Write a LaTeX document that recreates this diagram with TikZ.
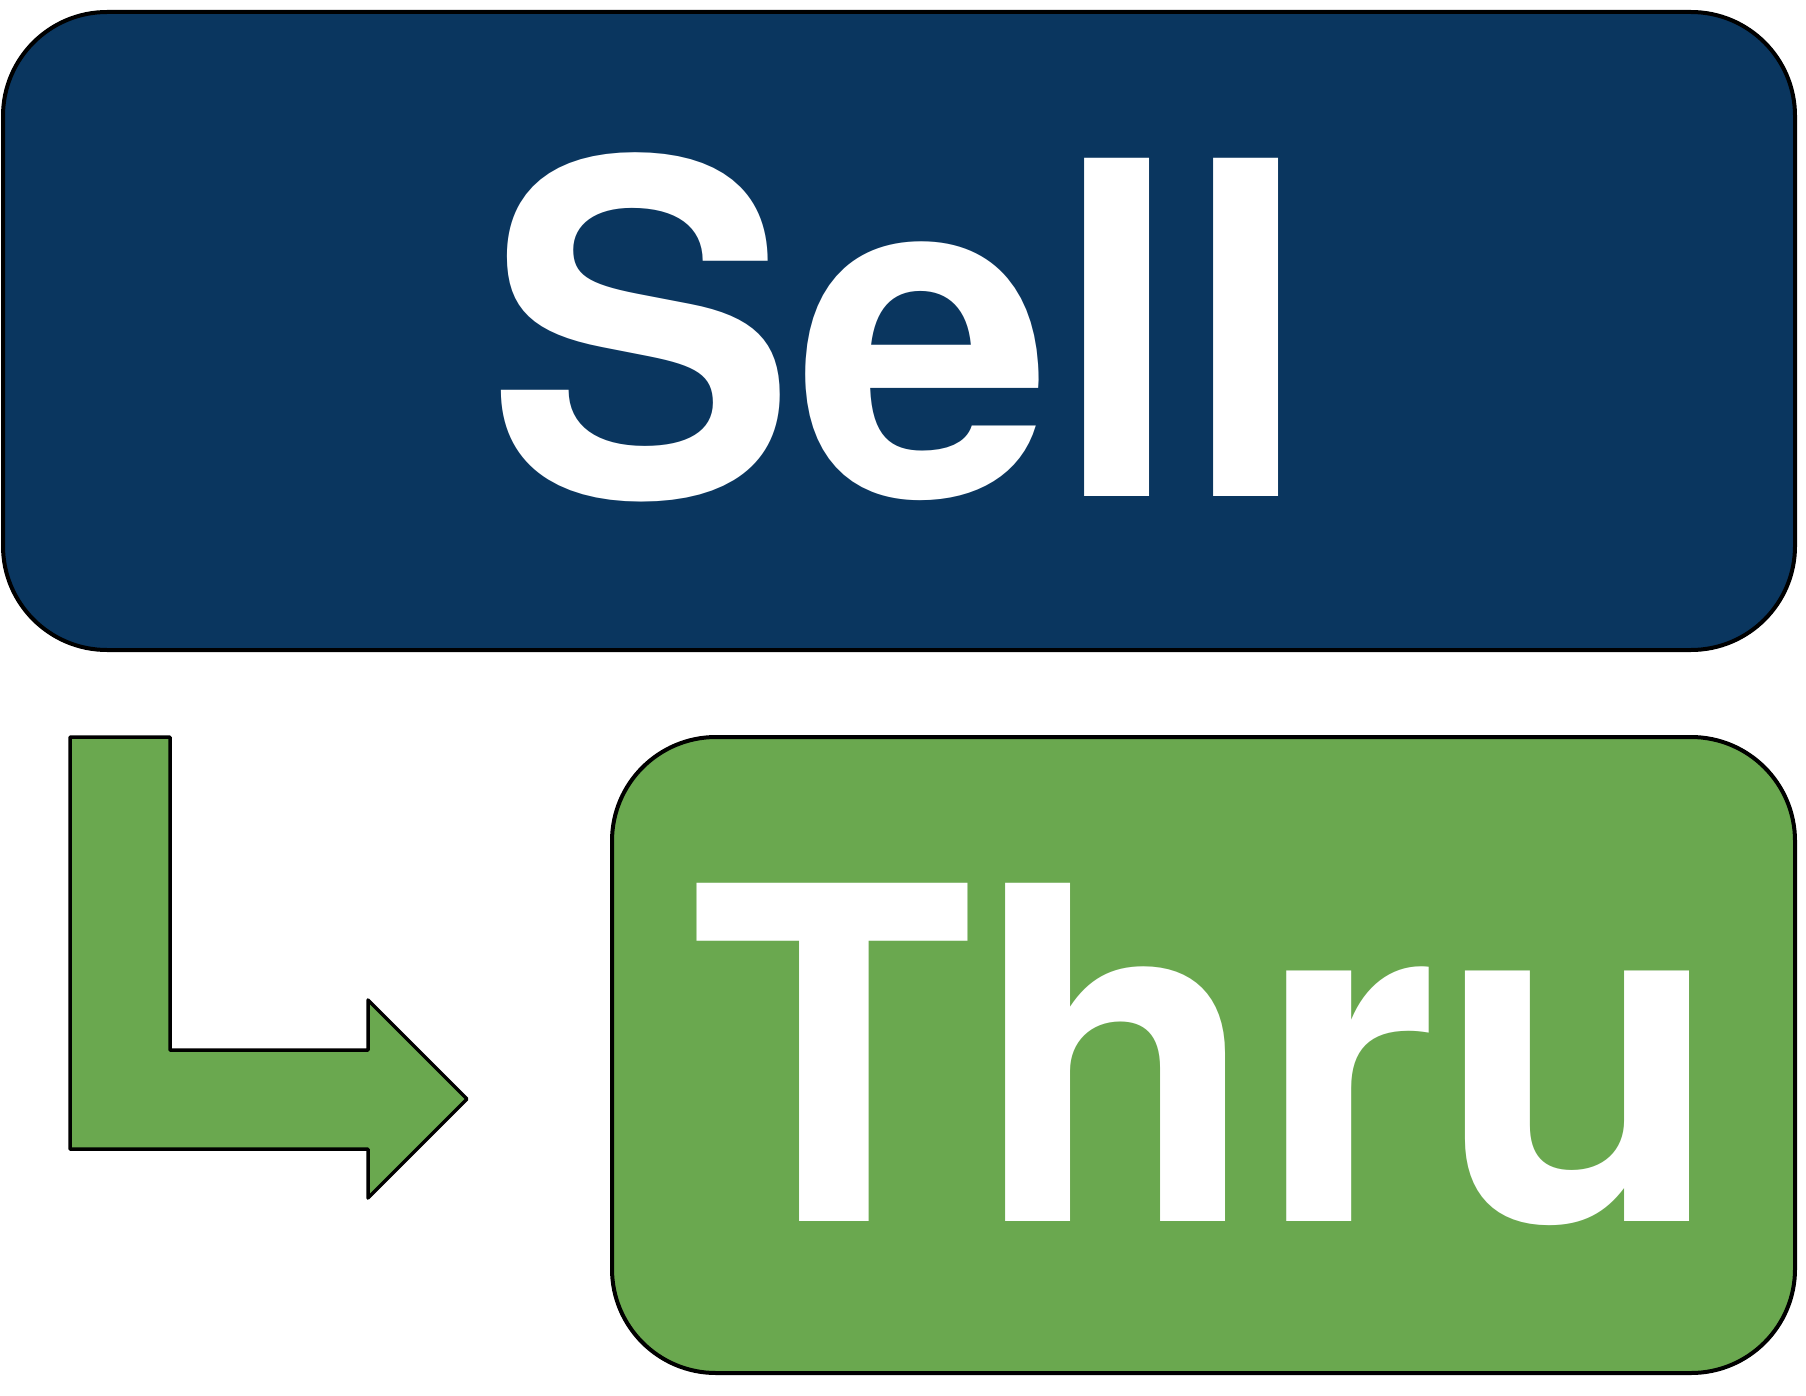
\documentclass[tikz,border=0pt]{standalone}
\usepackage{fontspec}
\setmainfont{TeX Gyre Heros}
\definecolor{sellblue}{HTML}{0A365F}
\definecolor{thrugreen}{HTML}{6AA84F}
\begin{document}
\begin{tikzpicture}[x=1pt,y=-1pt,
  panel/.style={draw=black,line width=4pt,rounded corners=104pt,inner sep=0pt,outer sep=0pt},
  bigword/.style={text=white,inner sep=0pt,anchor=base,font=\fontsize{464}{500}\selectfont\bfseries},
  bendarrow/.style={draw=black,fill=thrugreen,line width=3.5pt,line join=round}]
\useasboundingbox (0,0) rectangle (1806,1396);
\path[panel,fill=sellblue] (3,12) rectangle (1795,650);
\path[panel,fill=thrugreen] (612,737) rectangle (1795,1373);
\node[bigword] (sell) at (899,496) {Sell};
\node[bigword] (thru) at (1206,1221) {Thru};
\draw[bendarrow] (70,737) -- (170,737) -- (170,1050) -- (368,1050) -- (368,1000)
  -- (467,1099) -- (368,1198) -- (368,1149) -- (70,1149) -- cycle;
\end{tikzpicture}
\end{document}
